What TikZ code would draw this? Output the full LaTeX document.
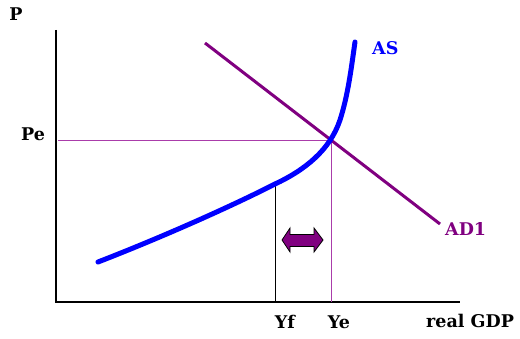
\documentclass[tikz,border=0pt]{standalone}
\usepackage{fontspec}
\setmainfont{DejaVu Serif}
\definecolor{adpurple}{RGB}{128,0,128}
\definecolor{thinpurple}{RGB}{170,60,170}
\definecolor{asblue}{RGB}{0,0,255}
\begin{document}
\begin{tikzpicture}[x=1pt,y=-1pt,
  lbl/.style={font=\bfseries\fontsize{17.5}{17.5}\selectfont, inner sep=0pt},
  axis/.style={line width=2pt, black},
  guide/.style={line width=0.8pt, thinpurple},
  gaparrow/.style={draw=black, fill=adpurple, line width=0.8pt, line join=miter}]
\useasboundingbox (0,0) rectangle (520,339);
% axes
\coordinate (top) at (56,30);
\coordinate (orig) at (56,302);
\coordinate (xend) at (460,302);
\draw[axis] (top) -- (orig) -- (xend);
% labels
\node[lbl] (P) at (16,14) {P};
\node[lbl] (Pe) at (33,134) {Pe};
\node[lbl] (Yf) at (285,322) {Yf};
\node[lbl] (Ye) at (339,322) {Ye};
\node[lbl, anchor=west] (gdp) at (426,321) {real GDP};
\node[lbl, text=asblue, anchor=west] (AS) at (372,48) {AS};
\node[lbl, text=adpurple, anchor=west] (AD) at (445,229) {AD1};
% equilibrium guides
\coordinate (peL) at (58,140);
\coordinate (eq) at (331,140);
\coordinate (yeB) at (331,302);
\draw[guide] (peL) -- (eq) -- (yeB);
\coordinate (yfT) at (275,183);
\coordinate (yfB) at (275,302);
\draw[line width=0.8pt] (yfT) -- (yfB);
% AD
\coordinate (adA) at (205,43);
\coordinate (adB) at (440,224);
\draw[line width=3pt, adpurple] (adA) -- (adB);
% AS curve
\draw[line width=5pt, asblue, line cap=round]
  (98,262) .. controls (160,238) and (230,207) .. (275,184)
  .. controls (305,170) and (330,150) .. (340,120)
  .. controls (348,95) and (351,70) .. (355,42);
% double arrow
\draw[gaparrow] (282,240) -- (290,228) -- (290,234.5) -- (314,234.5)
  -- (314,228) -- (323,240) -- (314,252) -- (314,246.5) -- (290,246.5)
  -- (290,252) -- cycle;
\end{tikzpicture}
\end{document}
